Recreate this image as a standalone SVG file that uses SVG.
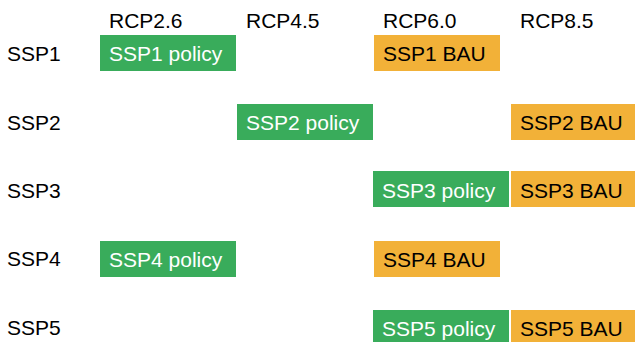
<svg xmlns="http://www.w3.org/2000/svg" width="635" height="342" viewBox="0 0 635 342">
  <style>
    text { font-family: "Liberation Sans", Arial, sans-serif; font-size: 21px; }
    .lbl { fill: #000000; }
    .policy rect { fill: #39AC5B; }
    .policy text { fill: #FFFFFF; }
    .bau rect { fill: #F2B138; }
    .bau text { fill: #000000; }
  </style>
  <rect width="635" height="342" fill="#FFFFFF"/>

  <!-- column headers -->
  <g id="headers" class="lbl">
    <text x="109" y="28">RCP2.6</text>
    <text x="246" y="28">RCP4.5</text>
    <text x="383" y="28">RCP6.0</text>
    <text x="520" y="28">RCP8.5</text>
  </g>

  <!-- row labels -->
  <g id="rows" class="lbl">
    <text x="7" y="61">SSP1</text>
    <text x="7" y="130">SSP2</text>
    <text x="7" y="198">SSP3</text>
    <text x="7" y="266">SSP4</text>
    <text x="7" y="335">SSP5</text>
  </g>

  <g id="connectors"></g>

  <g id="ssp1-policy" class="policy">
    <rect x="100" y="35" width="136" height="36"/>
    <text x="109" y="61">SSP1 policy</text>
  </g>
  <g id="ssp1-bau" class="bau">
    <rect x="374" y="35" width="126" height="36"/>
    <text x="383" y="61">SSP1 BAU</text>
  </g>

  <g id="ssp2-policy" class="policy">
    <rect x="237" y="104" width="136" height="36"/>
    <text x="246" y="130">SSP2 policy</text>
  </g>
  <g id="ssp2-bau" class="bau">
    <rect x="511" y="104" width="124" height="36"/>
    <text x="520" y="130">SSP2 BAU</text>
  </g>

  <g id="ssp3-policy" class="policy">
    <rect x="373" y="171" width="136" height="36"/>
    <text x="382" y="198">SSP3 policy</text>
  </g>
  <g id="ssp3-bau" class="bau">
    <rect x="511" y="171" width="124" height="36"/>
    <text x="520" y="198">SSP3 BAU</text>
  </g>

  <g id="ssp4-policy" class="policy">
    <rect x="100" y="241" width="136" height="36"/>
    <text x="109" y="267">SSP4 policy</text>
  </g>
  <g id="ssp4-bau" class="bau">
    <rect x="374" y="241" width="126" height="36"/>
    <text x="383" y="267">SSP4 BAU</text>
  </g>

  <g id="ssp5-policy" class="policy">
    <rect x="373" y="310" width="136" height="36"/>
    <text x="382" y="336">SSP5 policy</text>
  </g>
  <g id="ssp5-bau" class="bau">
    <rect x="511" y="310" width="124" height="36"/>
    <text x="520" y="336">SSP5 BAU</text>
  </g>
</svg>
